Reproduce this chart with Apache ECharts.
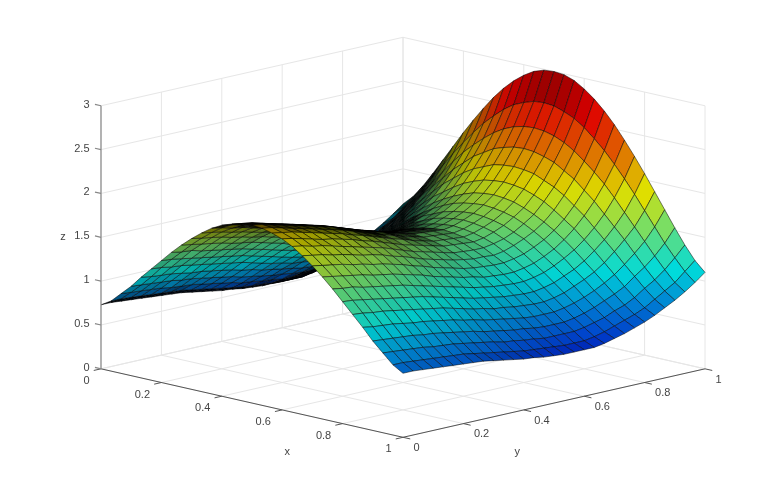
<!DOCTYPE html>
<html>
<head>
<meta charset="utf-8">
<script src="https://cdn.jsdelivr.net/npm/echarts@6/dist/echarts.min.js"></script>
<style>
html,body{margin:0;padding:0;background:#fff}
#main{width:779px;height:491px}
</style>
</head>
<body>
<div id="main"></div>
<script>
var xTicks = [0, 0.2, 0.4, 0.6, 0.8, 1];
var yTicks = [0, 0.2, 0.4, 0.6, 0.8, 1];
var zTicks = [0, 0.5, 1, 1.5, 2, 2.5, 3];
var jetStops = ['#00007f','#0000ff','#007fff','#00ffff','#7fff7f','#ffff00','#ff7f00','#ff0000','#7f0000'];

// z, one row per y (0..1), one column per x (0..1)
var zRows = [
[.73,.80,.91,1.02,1.15,1.27,1.39,1.51,1.62,1.72,1.81,1.89,1.95,1.99,2.02,2.03,2.02,1.99,1.95,1.89,1.81,1.72,1.62,1.51,1.39,1.27,1.15,1.02,.91,.80,.73],
[.73,.80,.90,1.01,1.13,1.26,1.38,1.49,1.60,1.70,1.79,1.87,1.93,1.97,2.00,2.01,2.00,1.97,1.93,1.87,1.79,1.70,1.60,1.49,1.38,1.26,1.13,1.01,.90,.80,.73],
[.72,.79,.89,1.00,1.12,1.24,1.36,1.48,1.58,1.68,1.77,1.84,1.90,1.95,1.97,1.98,1.97,1.95,1.90,1.84,1.77,1.68,1.58,1.48,1.36,1.24,1.12,1.00,.89,.79,.72],
[.71,.78,.88,.99,1.11,1.23,1.34,1.45,1.56,1.66,1.74,1.82,1.87,1.92,1.94,1.95,1.94,1.92,1.87,1.82,1.74,1.66,1.56,1.45,1.34,1.23,1.11,.99,.88,.78,.71],
[.70,.77,.87,.98,1.09,1.21,1.32,1.43,1.54,1.63,1.72,1.79,1.84,1.89,1.91,1.92,1.91,1.89,1.84,1.79,1.72,1.63,1.54,1.43,1.32,1.21,1.09,.98,.87,.77,.70],
[.69,.76,.85,.96,1.07,1.19,1.30,1.41,1.51,1.61,1.69,1.76,1.82,1.86,1.88,1.89,1.88,1.86,1.82,1.76,1.69,1.61,1.51,1.41,1.30,1.19,1.07,.96,.85,.76,.69],
[.68,.75,.84,.95,1.06,1.17,1.28,1.39,1.49,1.58,1.66,1.73,1.79,1.83,1.85,1.86,1.85,1.83,1.79,1.73,1.66,1.58,1.49,1.39,1.28,1.17,1.06,.95,.84,.75,.68],
[.67,.74,.83,.93,1.04,1.15,1.26,1.37,1.47,1.56,1.64,1.70,1.76,1.80,1.82,1.83,1.82,1.80,1.76,1.70,1.64,1.56,1.47,1.37,1.26,1.15,1.04,.93,.83,.74,.67],
[.66,.72,.81,.91,1.02,1.13,1.24,1.34,1.44,1.53,1.61,1.67,1.72,1.76,1.79,1.80,1.79,1.76,1.72,1.67,1.61,1.53,1.44,1.34,1.24,1.13,1.02,.91,.81,.72,.66],
[.64,.70,.79,.89,1.00,1.11,1.21,1.31,1.41,1.50,1.57,1.64,1.69,1.73,1.75,1.76,1.75,1.73,1.69,1.64,1.57,1.50,1.41,1.31,1.21,1.11,1.00,.89,.79,.70,.64],
[.62,.68,.77,.87,.97,1.08,1.18,1.28,1.38,1.46,1.54,1.60,1.65,1.69,1.71,1.72,1.71,1.69,1.65,1.60,1.54,1.46,1.38,1.28,1.18,1.08,.97,.87,.77,.68,.62],
[.60,.66,.75,.84,.95,1.05,1.15,1.25,1.34,1.43,1.50,1.56,1.61,1.65,1.67,1.68,1.67,1.65,1.61,1.56,1.50,1.43,1.34,1.25,1.15,1.05,.95,.84,.75,.66,.60],
[.58,.64,.72,.82,.92,1.02,1.12,1.22,1.31,1.39,1.46,1.52,1.57,1.61,1.63,1.64,1.63,1.61,1.57,1.52,1.46,1.39,1.31,1.22,1.12,1.02,.92,.82,.72,.64,.58],
[.57,.62,.71,.80,.90,1.00,1.09,1.19,1.28,1.36,1.43,1.49,1.54,1.58,1.60,1.61,1.60,1.58,1.54,1.49,1.43,1.36,1.28,1.19,1.09,1.00,.90,.80,.71,.62,.57],
[.55,.61,.69,.78,.88,.97,1.07,1.16,1.25,1.33,1.40,1.46,1.51,1.54,1.56,1.57,1.56,1.54,1.51,1.46,1.40,1.33,1.25,1.16,1.07,.97,.88,.78,.69,.61,.55],
[.54,.60,.68,.77,.86,.96,1.05,1.14,1.23,1.30,1.37,1.43,1.48,1.51,1.53,1.54,1.53,1.51,1.48,1.43,1.37,1.30,1.23,1.14,1.05,.96,.86,.77,.68,.60,.54],
[.53,.59,.66,.75,.84,.94,1.03,1.12,1.20,1.28,1.35,1.40,1.45,1.48,1.50,1.51,1.50,1.48,1.45,1.40,1.35,1.28,1.20,1.12,1.03,.94,.84,.75,.66,.59,.53],
[.53,.58,.66,.74,.83,.93,1.02,1.11,1.19,1.27,1.33,1.39,1.44,1.47,1.49,1.50,1.49,1.47,1.44,1.39,1.33,1.27,1.19,1.11,1.02,.93,.83,.74,.66,.58,.53],
[.53,.58,.66,.74,.83,.92,1.01,1.10,1.18,1.26,1.33,1.38,1.43,1.46,1.48,1.49,1.48,1.46,1.43,1.38,1.33,1.26,1.18,1.10,1.01,.92,.83,.74,.66,.58,.53],
[.53,.58,.66,.74,.83,.92,1.01,1.10,1.18,1.26,1.32,1.38,1.42,1.45,1.47,1.48,1.47,1.45,1.42,1.38,1.32,1.26,1.18,1.10,1.01,.92,.83,.74,.66,.58,.53],
[.55,.60,.68,.76,.85,.94,1.03,1.12,1.20,1.28,1.34,1.40,1.44,1.47,1.49,1.50,1.49,1.47,1.44,1.40,1.34,1.28,1.20,1.12,1.03,.94,.85,.76,.68,.60,.55],
[.58,.63,.71,.79,.88,.97,1.06,1.15,1.23,1.31,1.38,1.43,1.48,1.51,1.53,1.54,1.53,1.51,1.48,1.43,1.38,1.31,1.23,1.15,1.06,.97,.88,.79,.71,.63,.58],
[.61,.67,.74,.83,.92,1.02,1.11,1.20,1.28,1.36,1.43,1.48,1.53,1.56,1.58,1.59,1.58,1.56,1.53,1.48,1.43,1.36,1.28,1.20,1.11,1.02,.92,.83,.74,.67,.61],
[.65,.71,.79,.88,.97,1.07,1.16,1.26,1.34,1.42,1.49,1.55,1.60,1.63,1.65,1.66,1.65,1.63,1.60,1.55,1.49,1.42,1.34,1.26,1.16,1.07,.97,.88,.79,.71,.65],
[.69,.75,.83,.93,1.03,1.13,1.23,1.33,1.42,1.50,1.57,1.63,1.68,1.72,1.74,1.75,1.74,1.72,1.68,1.63,1.57,1.50,1.42,1.33,1.23,1.13,1.03,.93,.83,.75,.69],
[.74,.80,.89,.99,1.10,1.21,1.32,1.42,1.52,1.60,1.68,1.75,1.80,1.84,1.86,1.87,1.86,1.84,1.80,1.75,1.68,1.60,1.52,1.42,1.32,1.21,1.10,.99,.89,.80,.74],
[.80,.87,.97,1.08,1.19,1.31,1.42,1.53,1.64,1.73,1.82,1.89,1.94,1.99,2.01,2.02,2.01,1.99,1.94,1.89,1.82,1.73,1.64,1.53,1.42,1.31,1.19,1.08,.97,.87,.80],
[.86,.94,1.04,1.16,1.29,1.42,1.54,1.66,1.78,1.88,1.98,2.05,2.12,2.16,2.19,2.20,2.19,2.16,2.12,2.05,1.98,1.88,1.78,1.66,1.54,1.42,1.29,1.16,1.04,.94,.86],
[.93,1.01,1.13,1.26,1.40,1.54,1.68,1.82,1.95,2.06,2.16,2.25,2.32,2.37,2.40,2.41,2.40,2.37,2.32,2.25,2.16,2.06,1.95,1.82,1.68,1.54,1.40,1.26,1.13,1.01,.93],
[1.01,1.11,1.24,1.38,1.54,1.70,1.86,2.01,2.15,2.28,2.39,2.49,2.57,2.62,2.66,2.67,2.66,2.62,2.57,2.49,2.39,2.28,2.15,2.01,1.86,1.70,1.54,1.38,1.24,1.11,1.01],
[1.10,1.21,1.36,1.53,1.71,1.89,2.07,2.24,2.40,2.55,2.68,2.79,2.88,2.95,2.99,3.00,2.99,2.95,2.88,2.79,2.68,2.55,2.40,2.24,2.07,1.89,1.71,1.53,1.36,1.21,1.10]
];

var chart = echarts.init(document.getElementById('main'), null, {renderer: 'canvas'});
var FONT = '"Liberation Sans", Arial, sans-serif';
var TEXT = '#444444';
var FLOOR_TILT = 0.781; // floor slope in z units on screen

// box coordinates -> the flat value axes of the hidden grid
function project(x, y, z) {
	return [x + y, z + (y - x) * FLOOR_TILT];
}

var n = zRows.length - 1;
var cells = [];
for (var j = 0; j < n; j++) {
	for (var i = 0; i < n; i++) {
		cells.push([i, j]);
	}
}
// far cells first, so nearer cells paint over them
cells.sort(function (a, b) {
	return (a[0] - a[1]) - (b[0] - b[1]);
});

function dist(a, b) {
	return Math.sqrt((a[0] - b[0]) * (a[0] - b[0]) + (a[1] - b[1]) * (a[1] - b[1]));
}

// the original mesh is about twice as fine: foreshortened cells go dark there,
// so dim a cell by the share of it those finer lines would cover
function meshShade(p) {
	var area = Math.abs(
		(p[2][0] - p[0][0]) * (p[3][1] - p[1][1]) - (p[3][0] - p[1][0]) * (p[2][1] - p[0][1])
	) / 2;
	var sides = dist(p[0], p[1]) + dist(p[1], p[2]) + dist(p[2], p[3]) + dist(p[3], p[0]);
	return Math.min(0.95, sides * 0.55 / Math.max(area, 1));
}

function renderCell(params, api) {
	var i = api.value(0), j = api.value(1);
	var corners = [[i, j], [i + 1, j], [i + 1, j + 1], [i, j + 1]];
	var sum = 0;
	var points = corners.map(function (c) {
		var z = zRows[c[1]][c[0]];
		sum += z;
		return api.coord(project(c[0] / n, c[1] / n, z));
	});
	var base = echarts.color.lerp(sum / 4 / 3, jetStops);
	return {
		type: 'polygon',
		shape: {points: points},
		style: {fill: echarts.color.lerp(meshShade(points), [base, '#000000']), stroke: 'rgba(0,0,0,0.7)', lineWidth: 0.7}
	};
}

// line segments of the box: [x1,y1,z1,x2,y2,z2]
var gridSegs = [], axisSegs = [], zAxisSegs = [];
xTicks.forEach(function (t) {
	gridSegs.push([t, 0, 0, t, 1, 0]);
	gridSegs.push([t, 1, 0, t, 1, 3]);
	axisSegs.push([t, 0, 0, t, -0.024, 0]);
});
yTicks.forEach(function (t) {
	gridSegs.push([0, t, 0, 1, t, 0]);
	gridSegs.push([0, t, 0, 0, t, 3]);
	axisSegs.push([1, t, 0, 1.024, t, 0]);
});
zTicks.forEach(function (t) {
	gridSegs.push([0, 0, t, 0, 1, t]);
	gridSegs.push([0, 1, t, 1, 1, t]);
	zAxisSegs.push([0, 0, t, -0.02, 0, t]);
});
axisSegs.push([0, 0, 0, 1, 0, 0]);
axisSegs.push([1, 0, 0, 1, 1, 0]);
zAxisSegs.push([0, 0, 0, 0, 0, 3]);

function segSeries(data, color, width, z) {
	return {
		type: 'custom',
		coordinateSystem: 'cartesian2d',
		silent: true,
		z: z,
		data: data,
		renderItem: function (params, api) {
			var a = api.coord(project(api.value(0), api.value(1), api.value(2)));
			var b = api.coord(project(api.value(3), api.value(4), api.value(5)));
			return {
				type: 'line',
				shape: {x1: a[0], y1: a[1], x2: b[0], y2: b[1]},
				style: {stroke: color, lineWidth: width}
			};
		}
	};
}

// tick labels: [x,y,z,text]
function labelSeries(data, align, dx, dy) {
	return {
		type: 'custom',
		coordinateSystem: 'cartesian2d',
		silent: true,
		z: 5,
		data: data,
		renderItem: function (params, api) {
			var p = api.coord(project(api.value(0), api.value(1), api.value(2)));
			return {
				type: 'text',
				x: p[0] + dx,
				y: p[1] + dy,
				style: {
					text: String(data[params.dataIndex][3]),
					fill: TEXT,
					font: '11px ' + FONT,
					align: align,
					verticalAlign: 'middle'
				}
			};
		}
	};
}

function nameText(text, left, top) {
	return {
		type: 'text',
		x: left,
		y: top,
		style: {text: text, fill: TEXT, font: '11px ' + FONT, align: 'center', verticalAlign: 'middle'}
	};
}

chart.setOption({
	animation: false,
	backgroundColor: '#fff',
	grid: {left: 101, top: 37.3, width: 604, height: 400},
	xAxis: {type: 'value', min: 0, max: 2, show: false},
	yAxis: {type: 'value', min: -FLOOR_TILT, max: 3 + FLOOR_TILT, show: false},
	graphic: [nameText('x', 287.3, 451.5), nameText('y', 517.3, 451.5), nameText('z', 63, 237)],
	series: [
		segSeries(gridSegs, '#e6e6e6', 1, 1),
		segSeries(axisSegs, '#555555', 1, 3),
		segSeries(zAxisSegs, '#888888', 1.2, 3),
		{
			type: 'custom',
			coordinateSystem: 'cartesian2d',
			silent: true,
			progressive: 0,
			z: 2,
			data: cells,
			renderItem: renderCell
		},
		labelSeries(xTicks.map(function (t) { return [t, 0, 0, t]; }), 'right', -11.4, 12),
		labelSeries(yTicks.map(function (t) { return [1, t, 0, t]; }), 'left', 10.5, 10.7),
		labelSeries(zTicks.map(function (t) { return [0, 0, t, t]; }), 'right', -11.5, -1)
	]
});
</script>
</body>
</html>
